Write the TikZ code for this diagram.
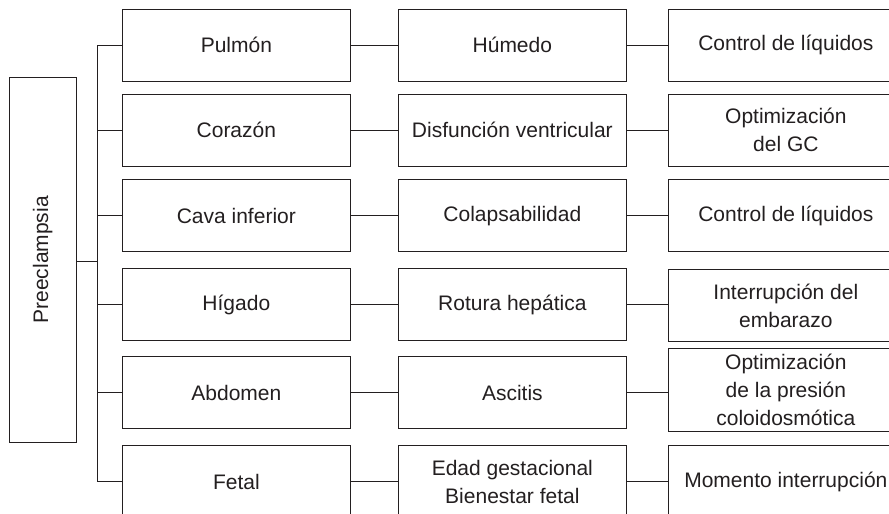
\documentclass[tikz,border=0pt]{standalone}
\usepackage{fontspec}
\setmainfont{Liberation Sans}
\definecolor{ink}{HTML}{231F20}
\begin{document}
\begin{tikzpicture}[x=1pt,y=-1pt,
  box/.style={draw=ink,line width=1pt,text=ink,inner sep=0pt,align=center,
    font=\fontsize{21}{28}\selectfont,minimum width=228.7pt,minimum height=72pt},
  boxw/.style={box,minimum width=234.3pt},
  link/.style={draw=ink,line width=1pt}]
\useasboundingbox (0,0) rectangle (889,514);
\clip (0,0) rectangle (889,514);
\fill[white] (0,0) rectangle (889,514);
% root
\node[box,minimum width=67.3pt,minimum height=365pt] (root) at (42.65,259.8) {\rotatebox{90}{Preeclampsia}};
\coordinate (bt) at (97.7,45);
\coordinate (bb) at (97.7,481.7);
% column 1
\node[box] (a1) at (236.35,45) {Pulmón};
\node[box] (a2) at (236.35,130.3) {Corazón};
\node[box] (a3) at (236.35,215.8) {Cava inferior};
\node[box] (a4) at (236.35,304.7) {Hígado};
\node[box] (a5) at (236.35,392.7) {Abdomen};
\node[box] (a6) at (236.35,481.7) {Fetal};
% column 2
\node[box] (b1) at (512.35,45) {Húmedo};
\node[box] (b2) at (512.35,130.3) {Disfunción ventricular};
\node[box] (b3) at (512.35,215.8) {Colapsabilidad};
\node[box] (b4) at (512.35,304.7) {Rotura hepática};
\node[box] (b5) at (512.35,392.7) {Ascitis};
\node[box] (b6) at (512.35,481.7) {Edad gestacional\\Bienestar fetal};
% column 3
\node[boxw] (c1) at (785.85,45) {Control de líquidos};
\node[boxw] (c2) at (785.85,130.3) {Optimización\\del GC};
\node[boxw] (c3) at (785.85,215.8) {Control de líquidos};
\node[boxw,minimum height=72.4pt] (c4) at (785.85,305.5) {Interrupción del\\embarazo};
\node[boxw,minimum height=83.4pt] (c5) at (785.85,390) {Optimización\\de la presión\\coloidosmótica};
\node[boxw] (c6) at (785.85,481.7) {Momento interrupción};
% connectors
\draw[link] (root.east |- 0,261) -- (bt |- 0,261);
\draw[link] (bt) -- (bb);
\foreach \i in {1,...,6}{
  \draw[link] (bt |- a\i.west) -- (a\i.west);
  \draw[link] (a\i.east) -- (b\i.west);
  \draw[link] (b\i.east) -- (b\i.east -| c\i.west);
}
\end{tikzpicture}
\end{document}
